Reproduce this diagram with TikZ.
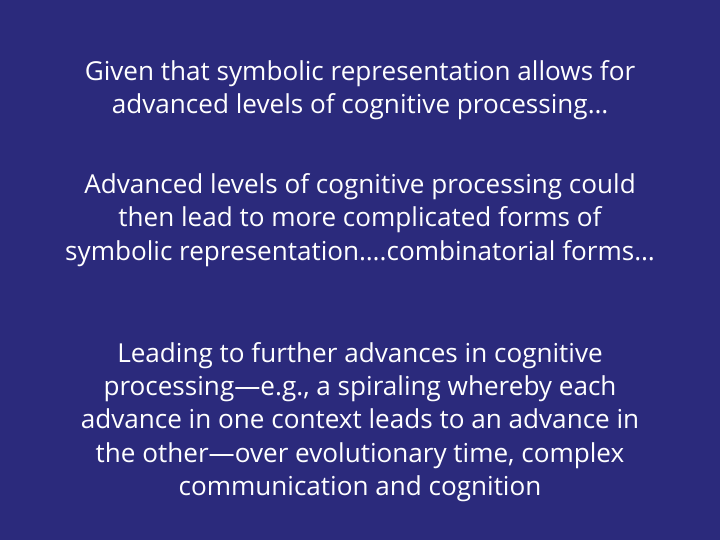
\documentclass[tikz,border=0pt]{standalone}
\usepackage{fontspec}
\setmainfont{Open Sans}
\definecolor{bg}{RGB}{43,42,124}
\begin{document}
\begin{tikzpicture}[x=1bp,y=1bp,
  txt/.style={text=white,align=center,font=\fontsize{26.2}{33.3}\selectfont,inner sep=0}]
\fill[bg] (0,0) rectangle (720,540);
\useasboundingbox (0,0) rectangle (720,540);
\node[txt] (a) at (360,450) {Given that symbolic representation allows for\\advanced levels of cognitive processing…};
\node[txt] (b) at (360,320) {Advanced levels of cognitive processing could\\then lead to more complicated forms of\\symbolic representation….combinatorial forms…};
\node[txt] (c) at (360,118) {Leading to further advances in cognitive\\processing—e.g., a spiraling whereby each\\advance in one context leads to an advance in\\the other—over evolutionary time, complex\\communication and cognition};
\end{tikzpicture}
\end{document}
